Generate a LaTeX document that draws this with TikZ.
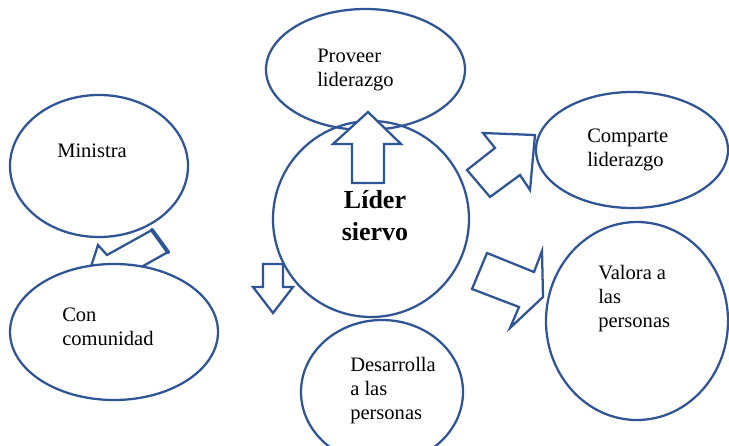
\documentclass[tikz,border=0pt]{standalone}
\usepackage{fontspec}
\setmainfont{Liberation Serif}
\usetikzlibrary{shapes.geometric}
\definecolor{lineblue}{RGB}{47,85,151}
\begin{document}
\begin{tikzpicture}[x=0.75pt,y=-0.75pt,
  bub/.style 2 args={ellipse, draw=lineblue, line width=1.7pt, inner sep=0pt,
    outer sep=0pt, minimum width=#1*1.5pt, minimum height=#2*1.5pt},
  blockarrow/.style={draw=lineblue, line width=1.7pt, fill=white, line join=miter},
  % multi-line labels are placed by the baseline of their last line
  txt/.style={anchor=base west, align=left, inner sep=0pt,
    font=\fontsize{15.4}{17.8}\selectfont},
]
\useasboundingbox (0,0) rectangle (729,446);

% arrow from "Ministra" down to "Con comunidad" (partly behind the lower bubble)
\draw[blockarrow] (152,230) -- (168,252) -- (120,279) -- (126,290) -- (86,282)
  -- (98,245) -- (107,255) -- cycle;
\draw[lineblue, line width=3pt, line cap=round] (152,230) -- (168,252);

% bubbles
\node[bub={104}{68}, fill=white] (comunidad) at (114,332) {};
\node[bub={89}{71}] (ministra) at (99,166) {};
\node[bub={99.5}{60.5}] (proveer) at (365.5,69.5) {};
\node[bub={98}{98}] (lider) at (371,219) {};
\node[bub={96}{58}] (comparte) at (632,150) {};
\node[bub={91}{99}] (valora) at (637,321) {};
\node[bub={81}{72}] (desarrolla) at (382,392) {};

% block arrows around the centre
\draw[blockarrow] (368,112) -- (401,144) -- (384,144) -- (384,183) -- (352,183)
  -- (352,144) -- (333,144) -- cycle;
\draw[blockarrow] (263,264) -- (283,264) -- (283,287) -- (293,287) -- (273,313)
  -- (253,287) -- (263,287) -- cycle;
\draw[blockarrow] (535,135) -- (483,133) -- (495,148) -- (467,170) -- (490,197)
  -- (520,175) -- (530,190) -- cycle;
\draw[blockarrow] (487,253) -- (534,272) -- (542,251) -- (543,297) -- (510,328)
  -- (519,307) -- (472,289) -- cycle;

% labels
\node[txt] (tproveer) at (317,86.5) {Proveer\\liderazgo};
\node[txt] (tministra) at (57,157) {Ministra};
\node[txt] (tcomunidad) at (62,345) {Con\\comunidad};
\node[txt] (tcomparte) at (587,166.5) {Comparte\\liderazgo};
\node[txt] (tvalora) at (598,327) {Valora a\\las\\personas};
\node[txt] (tdesarrolla) at (350,419) {Desarrolla\\a las\\personas};
\node[anchor=base, align=center, inner sep=0pt,
  font=\bfseries\fontsize{19.5}{24}\selectfont] (tlider) at (375,240) {Líder\\siervo};
\end{tikzpicture}
\end{document}
